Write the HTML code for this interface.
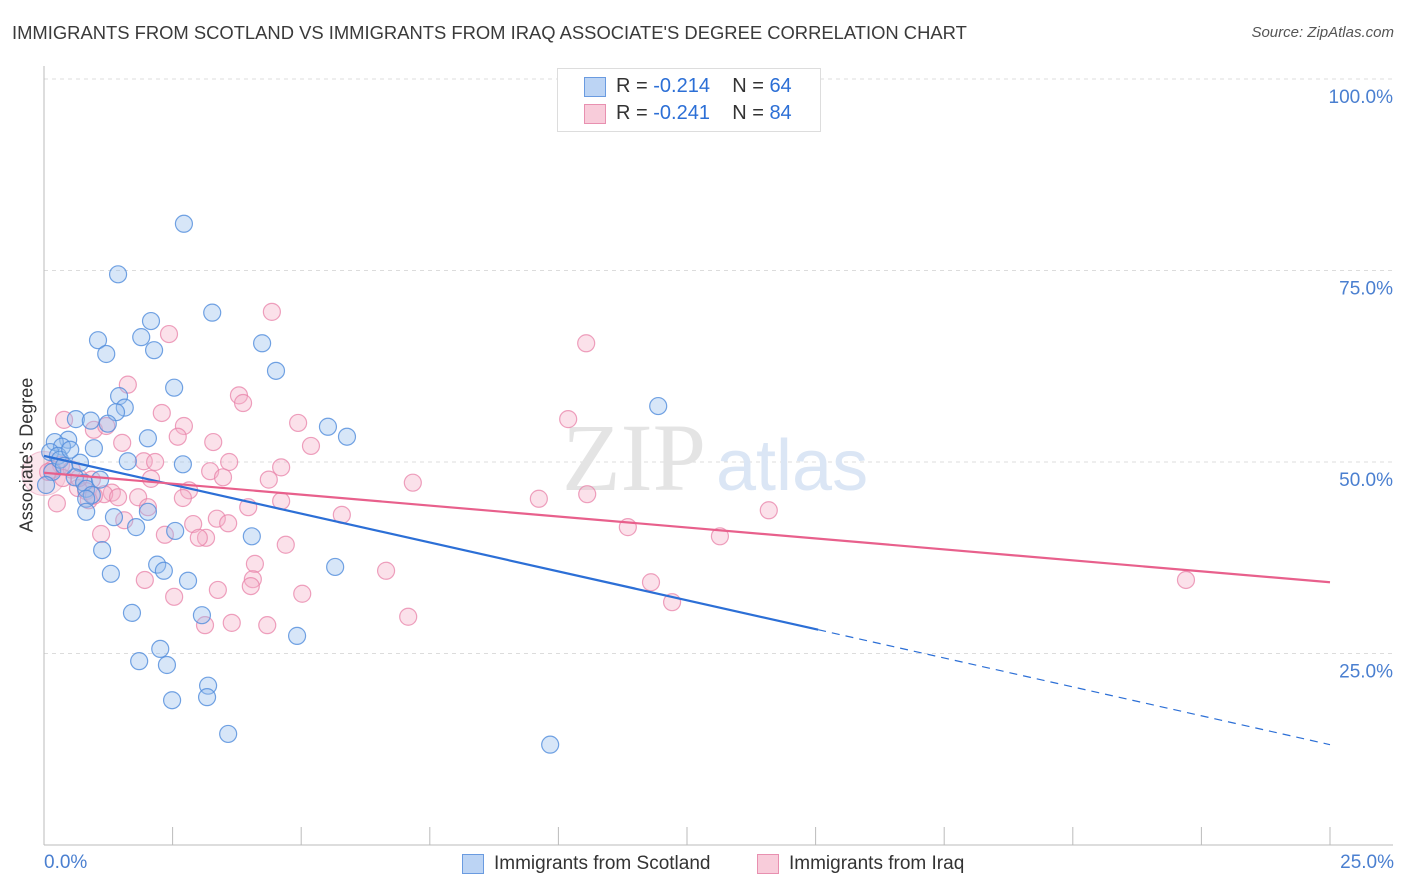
<!DOCTYPE html>
<html><head><meta charset="utf-8"><style>
body{margin:0;background:#fff;font-family:"Liberation Sans",sans-serif}
#wrap{position:relative;width:1406px;height:892px;overflow:hidden}
</style></head><body>
<div id="wrap">
<svg id="chart" width="1406" height="892"></svg>
</div>
<script>
const blueX=[2.72,1.44,2.08,3.27,1.05,1.89,1.21,2.14,4.24,4.51,2.53,1.46,1.57,1.40,11.94,0.62,0.91,1.24,5.52,5.89,2.02,0.47,0.21,0.35,0.97,0.12,0.27,1.63,2.70,0.70,0.60,0.78,0.82,0.93,0.82,0.82,1.36,2.02,1.79,2.55,4.04,1.13,2.20,2.33,5.66,1.30,2.80,1.71,3.07,4.92,2.26,1.85,2.39,3.19,3.17,2.49,3.58,9.84,0.16,0.04,0.31,0.51,0.39,1.09];
const blueY=[81.1,74.5,68.4,69.5,65.9,66.3,64.1,64.6,65.5,61.9,59.7,58.6,57.1,56.5,57.3,55.6,55.4,55.0,54.6,53.3,53.1,52.9,52.6,52.0,51.8,51.3,50.8,50.1,49.7,49.9,48.0,47.3,46.5,45.7,45.2,43.5,42.8,43.5,41.5,41.0,40.3,38.5,36.6,35.8,36.3,35.4,34.5,30.3,30.0,27.3,25.6,24.0,23.5,20.8,19.3,18.9,14.5,13.1,48.7,47.0,50.3,51.6,49.5,47.7];
const pinkX=[4.43,10.54,2.43,1.63,3.79,3.87,2.29,0.39,10.19,4.94,2.72,0.97,1.21,2.60,3.29,5.19,1.52,1.94,2.16,3.60,4.61,3.23,0.33,0.16,0.54,3.48,2.08,4.37,7.17,0.93,0.66,0.82,1.32,1.17,1.44,1.83,2.82,2.70,10.56,9.62,4.61,2.02,0.25,0.87,3.97,0.97,5.79,14.09,1.56,2.90,3.36,3.58,11.35,1.11,2.35,3.15,3.01,13.14,4.70,4.10,6.65,4.06,1.96,11.80,22.20,4.02,3.38,5.02,2.53,12.21,7.08,3.13,3.65,4.34,0.68,0.37,0.08];
const pinkY=[69.6,65.5,66.7,60.1,58.7,57.7,56.4,55.5,55.6,55.1,54.7,54.2,54.7,53.3,52.6,52.1,52.5,50.1,50.0,50.0,49.3,48.8,49.6,49.0,49.0,48.0,47.8,47.7,47.3,47.7,46.6,46.2,46.0,45.8,45.4,45.4,46.3,45.3,45.8,45.2,44.9,44.1,44.6,45.0,44.1,45.6,43.1,43.7,42.4,41.9,42.6,42.0,41.5,40.6,40.5,40.1,40.1,40.3,39.2,36.7,35.8,34.7,34.6,34.3,34.6,33.8,33.3,32.8,32.4,31.7,29.8,28.7,29.0,28.7,47.9,47.9,48.7];
const blueTrend=[50.8,-1.508];
const pinkTrend=[48.6,-0.572];
const yTicks=[25,50,75,100];
const xTickCount=10;

const NS="http://www.w3.org/2000/svg";
const svg=document.getElementById('chart');
const L=44,R=1330,T=79,B=845;
const sx=v=>L+(v/25)*(R-L);
const sy=v=>B-(v/100)*(B-T);
function mk(tag,attrs,parent){const e=document.createElementNS(NS,tag);for(const k in attrs)e.setAttribute(k,attrs[k]);(parent||svg).appendChild(e);return e;}

yTicks.forEach(t=>{
  const g=mk('line',{x1:L,x2:1393,y1:sy(t),y2:sy(t),stroke:'#dcdcdc','stroke-dasharray':'4,4'});
  
  
  const tx=mk('text',{x:1393,y:sy(t)+24,'text-anchor':'end','font-size':19,fill:'#4a7fd0'});
  tx.textContent=t.toFixed(1)+'%';
  
  
});
const ax=mk('line',{x1:L,x2:1393,y1:B,y2:B,stroke:'#bbb'});


const ay=mk('line',{x1:L,x2:L,y1:66,y2:B,stroke:'#bbb'});


for(let i=1;i<=xTickCount;i++){
  const x=sx(i*25/xTickCount);
  const tk=mk('line',{x1:x,x2:x,y1:827,y2:B,stroke:'#bbb'});
  
  
}
const wm=mk('text',{x:634,y:490,'text-anchor':'middle','font-size':96,fill:'#e4e4e4','font-family':'Liberation Serif,serif'});
wm.textContent='ZIP';


const wm2=mk('text',{x:716,y:490,'font-size':72,fill:'#dbe6f5'});
wm2.textContent='atlas';


const bc=mk('circle',{cx:sx(0),cy:sy(48.5),r:22,fill:'rgba(244,184,204,0.35)',stroke:'rgba(232,144,176,0.5)'});



function points(xs,ys,fill,stroke,name){
  xs.forEach((v,i)=>{
    const c=mk('circle',{cx:sx(v),cy:sy(ys[i]),r:8.5,fill:fill,stroke:stroke,'stroke-width':1.2});
    
    
  });
}
points(pinkX,pinkY,'rgba(244,176,200,0.38)','rgba(232,130,168,0.75)','iraq-point');
points(blueX,blueY,'rgba(150,188,236,0.38)','rgba(80,140,220,0.8)','scotland-point');

const bEnd=15.05;
let l1=mk('line',{x1:sx(0),y1:sy(blueTrend[0]),x2:sx(bEnd),y2:sy(blueTrend[0]+blueTrend[1]*bEnd),stroke:'#2c6fd6','stroke-width':2.2});


let l2=mk('line',{x1:sx(bEnd),y1:sy(blueTrend[0]+blueTrend[1]*bEnd),x2:sx(25),y2:sy(blueTrend[0]+blueTrend[1]*25),stroke:'#2c6fd6','stroke-width':1.2,'stroke-dasharray':'8,6'});


let l3=mk('line',{x1:sx(0),y1:sy(pinkTrend[0]),x2:sx(25),y2:sy(pinkTrend[0]+pinkTrend[1]*25),stroke:'#e8608c','stroke-width':2.2});


</script>
<div style="position:absolute;left:12px;top:22px;font-size:18.4px;color:#3a3a3a">IMMIGRANTS FROM SCOTLAND VS IMMIGRANTS FROM IRAQ ASSOCIATE'S DEGREE CORRELATION CHART</div>
<div style="position:absolute;right:12px;top:24px;font-size:15px;color:#555;font-style:italic">Source: ZipAtlas.com</div>
<div style="position:absolute;left:27px;top:455px;transform:translate(-50%,-50%) rotate(-90deg);font-size:18px;color:#333;white-space:nowrap">Associate's Degree</div>
<div style="position:absolute;left:44px;top:852px;font-size:19px;color:#4a7fd0">0.0%</div>
<div style="position:absolute;right:12px;top:852px;font-size:19px;color:#4a7fd0">25.0%</div>
<div style="position:absolute;left:557px;top:68px;width:262px;height:62px;border:1px solid #ddd;background:#fff;font-size:20px;color:#333">
 <div style="position:absolute;left:26px;top:8px;width:20px;height:18px;background:#bcd4f4;border:1px solid #6a9be0"></div>
 <div style="position:absolute;left:58px;top:6px;white-space:nowrap">R = <span style="color:#2c6fd6">-0.214</span>&nbsp;&nbsp;&nbsp;&nbsp;N = <span style="color:#2c6fd6">64</span></div>
 <div style="position:absolute;left:26px;top:35px;width:20px;height:18px;background:#f8ccda;border:1px solid #e890b0"></div>
 <div style="position:absolute;left:58px;top:33px;white-space:nowrap">R = <span style="color:#2c6fd6">-0.241</span>&nbsp;&nbsp;&nbsp;&nbsp;N = <span style="color:#2c6fd6">84</span></div>
</div>
<div style="position:absolute;left:462px;top:853px;font-size:19px;color:#333;display:flex;align-items:center">
 <span style="display:inline-block;width:20px;height:18px;background:#bcd4f4;border:1px solid #6a9be0;margin-right:10px"></span>Immigrants from Scotland</div>
<div style="position:absolute;left:757px;top:853px;font-size:19px;color:#333;display:flex;align-items:center">
 <span style="display:inline-block;width:20px;height:18px;background:#f8ccda;border:1px solid #e890b0;margin-right:10px"></span>Immigrants from Iraq</div>
</body></html>
